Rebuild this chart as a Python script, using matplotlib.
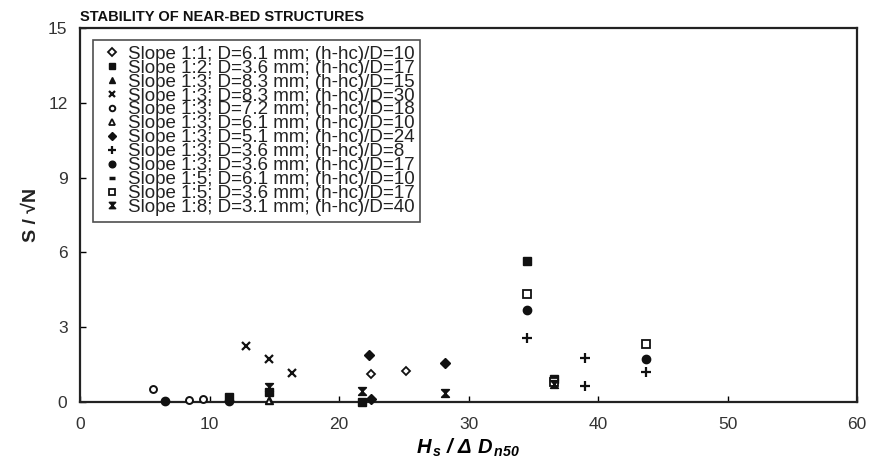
import matplotlib
matplotlib.use("Agg")
import matplotlib.pyplot as plt
from matplotlib.path import Path

plt.rcParams['font.family'] = ['Liberation Sans', 'DejaVu Sans']
plt.rcParams['mathtext.fontset'] = 'custom'
plt.rcParams['mathtext.rm'] = 'Liberation Sans:bold:italic'
plt.rcParams['mathtext.it'] = 'Liberation Sans:bold:italic'
plt.rcParams['mathtext.bf'] = 'Liberation Sans:bold:italic'

labels = [
    "Slope 1:1; D=6.1 mm; (h-hc)/D=10",
    "Slope 1:2; D=3.6 mm; (h-hc)/D=17",
    "Slope 1:3; D=8.3 mm; (h-hc)/D=15",
    "Slope 1:3; D=8.3 mm; (h-hc)/D=30",
    "Slope 1:3; D=7.2 mm; (h-hc)/D=18",
    "Slope 1:3; D=6.1 mm; (h-hc)/D=10",
    "Slope 1:3; D=5.1 mm; (h-hc)/D=24",
    "Slope 1:3; D=3.6 mm; (h-hc)/D=8",
    "Slope 1:3; D=3.6 mm; (h-hc)/D=17",
    "Slope 1:5; D=6.1 mm; (h-hc)/D=10",
    "Slope 1:5; D=3.6 mm; (h-hc)/D=17",
    "Slope 1:8; D=3.1 mm; (h-hc)/D=40",
]

x_s11_d61 = [22.5, 25.2]
y_s11_d61 = [1.12, 1.26]
x_s12_d36 = [34.5, 36.6, 14.6, 21.8, 11.5]
y_s12_d36 = [5.65, 0.92, 0.42, 0.02, 0.22]
x_s13_d83a = [14.6]
y_s13_d83a = [0.08]
x_s13_d83b = [12.8, 14.6, 16.4]
y_s13_d83b = [2.25, 1.73, 1.17]
x_s13_d72 = [5.6, 8.4, 9.5]
y_s13_d72 = [0.52, 0.08, 0.12]
x_s13_d61 = [14.6]
y_s13_d61 = [0.05]
x_s13_d51 = [22.3, 28.2, 22.5]
y_s13_d51 = [1.90, 1.58, 0.12]
x_s13_d36a = [34.5, 39.0, 39.0, 43.7]
y_s13_d36a = [2.58, 1.77, 0.64, 1.21]
x_s13_d36b = [34.5, 43.7, 6.6, 11.5]
y_s13_d36b = [3.68, 1.73, 0.03, 0.05]
x_s15_d61 = [11.5]
y_s15_d61 = [0.14]
x_s15_d36 = [34.5, 43.7, 36.6]
y_s15_d36 = [4.35, 2.34, 0.80]
x_s18_d31 = [28.2, 14.6, 36.6, 21.8]
y_s18_d31 = [0.36, 0.60, 0.72, 0.44]

xticks = [0, 10, 20, 30, 40, 50, 60]
yticks = [0, 3, 6, 9, 12, 15]

hourglass = Path([(-1, 1), (1, 1), (-1, -1), (1, -1), (-1, 1)],
                 [Path.MOVETO, Path.LINETO, Path.LINETO, Path.LINETO, Path.CLOSEPOLY])

dark = '#111111'
series = [
    (x_s11_d61, y_s11_d61, dict(marker='D', mfc='white', mec=dark, ms=4.5, mew=1.3)),
    (x_s12_d36, y_s12_d36, dict(marker='s', mfc=dark, mec=dark, ms=5.5, mew=1)),
    (x_s13_d83a, y_s13_d83a, dict(marker='^', mfc=dark, mec=dark, ms=6, mew=1)),
    (x_s13_d83b, y_s13_d83b, dict(marker='x', mfc=dark, mec=dark, ms=5.5, mew=1.6)),
    (x_s13_d72, y_s13_d72, dict(marker='o', mfc='white', mec=dark, ms=5, mew=1.4)),
    (x_s13_d61, y_s13_d61, dict(marker='^', mfc='white', mec=dark, ms=5, mew=1.3)),
    (x_s13_d51, y_s13_d51, dict(marker='D', mfc=dark, mec=dark, ms=5, mew=1)),
    (x_s13_d36a, y_s13_d36a, dict(marker='+', mfc=dark, mec=dark, ms=7, mew=1.6)),
    (x_s13_d36b, y_s13_d36b, dict(marker='o', mfc=dark, mec=dark, ms=6, mew=1)),
    (x_s15_d61, y_s15_d61, dict(marker='_', mfc=dark, mec=dark, ms=6, mew=2.5)),
    (x_s15_d36, y_s15_d36, dict(marker='s', mfc='white', mec=dark, ms=5.5, mew=1.3)),
    (x_s18_d31, y_s18_d31, dict(marker=hourglass, mfc=dark, mec=dark, ms=5.5, mew=1.2)),
]

fig = plt.figure(figsize=(8.85, 4.73), dpi=100)
ax = fig.add_axes([80 / 885, 1 - 402 / 473, 777 / 885, 374 / 473])

for (xs, ys, st), lab in zip(series, labels):
    ax.plot(xs, ys, linestyle='none', label=lab, clip_on=False, zorder=3, **st)

ax.set_xlim(0, 60)
ax.set_ylim(0, 15)
ax.set_xticks(xticks)
ax.set_yticks(yticks)
ax.tick_params(direction='in', length=4, width=1, labelsize=12.5, labelcolor='#333333')
ax.tick_params(axis='y', pad=9)
ax.tick_params(axis='x', pad=11)
for sp in ax.spines.values():
    sp.set_linewidth(1.6)
    sp.set_color('#222222')

ax.set_xlabel(r"$H_{\,s}$ $/$ $\Delta\ D_{\,n50}$", fontsize=14.5, labelpad=3)
ax.set_ylabel("S / \u221aN", fontsize=14, fontweight='bold', labelpad=6, color='#222222')

fig.text(80 / 885, 1 - 17 / 473, "STABILITY OF NEAR-BED STRUCTURES", fontsize=10.5,
         fontweight='bold', va='center', ha='left', color='#111111')

leg = ax.legend(loc='upper left', bbox_to_anchor=(0.0167, 0.968), borderaxespad=0,
                fontsize=13.5, labelspacing=-0.17, handlelength=1.4, handletextpad=0.15,
                borderpad=0.3, fancybox=False, frameon=True, markerscale=0.8)
leg.get_frame().set_edgecolor('#222222')
leg.get_frame().set_linewidth(1.2)
for t in leg.get_texts():
    t.set_color('#222222')

fig.savefig("out.png", dpi=100)
